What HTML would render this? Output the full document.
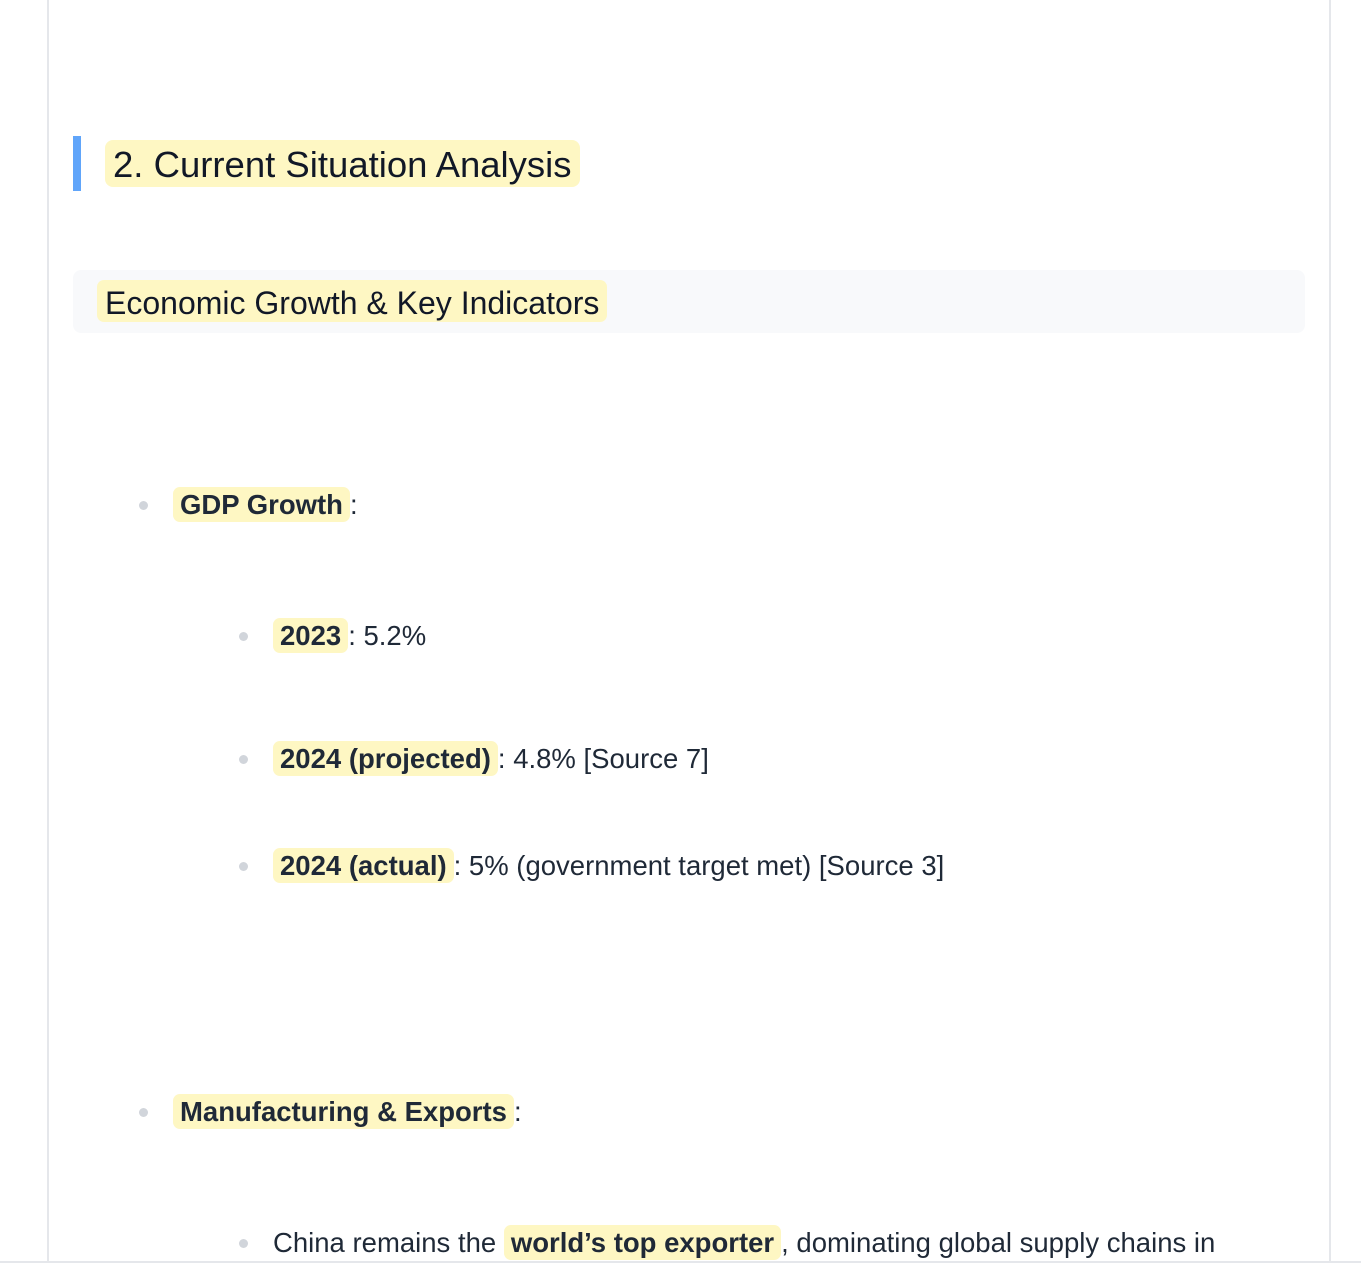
<!DOCTYPE html>
<html><head><meta charset="utf-8"><style>
body{margin:0;width:1361px;height:1275px;background:#fff;position:relative;overflow:hidden;font-family:"Liberation Sans",sans-serif;color:#111827}
.page{position:absolute;left:47px;top:-2px;width:1280px;height:1264px;border-left:2px solid #e5e7eb;border-right:2px solid #e5e7eb;background:#fff}
.a{position:absolute;white-space:nowrap}
.hl{background:#fef7c3;border-radius:7px;padding:2px 7px;font-weight:bold}
.dot{position:absolute;width:9px;height:9px;border-radius:50%;background:#d1d5db}
.li{font-size:27.5px;line-height:36px;color:#1f2937}
</style></head><body>
<div class="page"></div>
<div class="a" style="left:0;top:1261px;width:1361px;height:2px;background:#e5e7eb"></div>
<div class="a" style="left:73px;top:136px;width:8px;height:55px;background:#60a5fa"></div>
<div class="a" style="left:105px;top:140px;height:47px;line-height:49px;font-size:36.5px;background:#fef7c3;border-radius:8px;padding:0 8px">2. Current Situation Analysis</div>
<div class="a" style="left:73px;top:270px;width:1232px;height:63px;background:#f8f9fb;border-radius:8px"></div>
<div class="a" style="left:97px;top:280px;height:42px;line-height:46px;font-size:32px;background:#fef7c3;border-radius:7px;padding:0 8px">Economic Growth &amp; Key Indicators</div>

<div class="dot" style="left:139px;top:501px"></div>
<div class="a li" style="left:173px;top:487px"><span class="hl">GDP Growth</span>:</div>

<div class="dot" style="left:239px;top:632px"></div>
<div class="a li" style="left:273px;top:618px"><span class="hl">2023</span>: 5.2%</div>

<div class="dot" style="left:239px;top:755px"></div>
<div class="a li" style="left:273px;top:741px"><span class="hl">2024 (projected)</span>: 4.8% [Source 7]</div>

<div class="dot" style="left:239px;top:862px"></div>
<div class="a li" style="left:273px;top:848px"><span class="hl">2024 (actual)</span>: 5% (government target met) [Source 3]</div>

<div class="dot" style="left:139px;top:1108px"></div>
<div class="a li" style="left:173px;top:1094px"><span class="hl">Manufacturing &amp; Exports</span>:</div>

<div class="dot" style="left:239px;top:1239px"></div>
<div class="a li" style="left:273px;top:1225px">China remains the <span class="hl">world’s top exporter</span>, dominating global supply chains in</div>
</body></html>
